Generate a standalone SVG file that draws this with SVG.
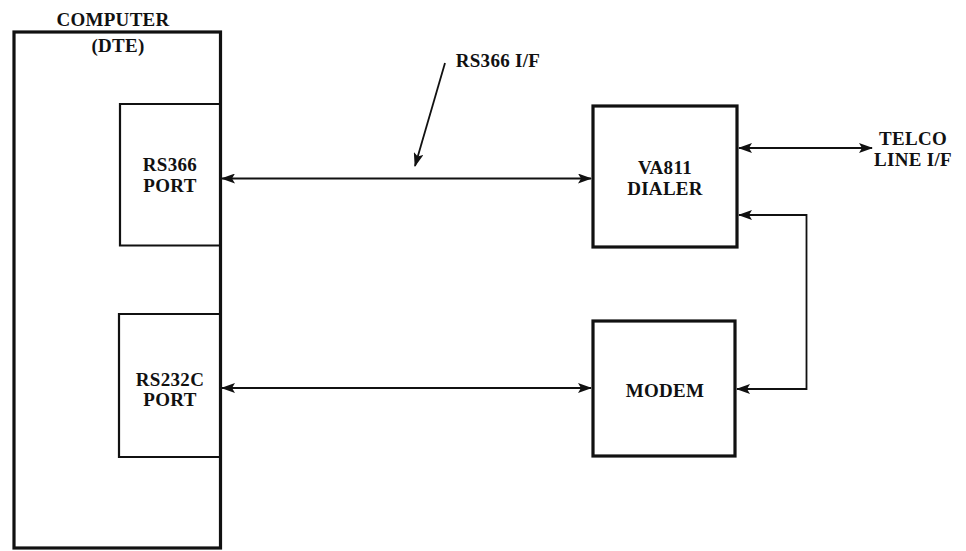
<svg xmlns="http://www.w3.org/2000/svg" width="966" height="551" viewBox="0 0 966 551">
<style>
.t{font-family:"Liberation Serif","Times New Roman",serif;font-weight:bold;font-size:19px;fill:#111;text-anchor:middle;letter-spacing:0.3px}
.big{fill:none;stroke:#111;stroke-width:3.2}
.port{fill:none;stroke:#111;stroke-width:2.2}
.c{fill:none;stroke:#111;stroke-width:1.8}
</style>
<defs>
<marker id="ah" viewBox="0 0 14 10" refX="13" refY="5" markerWidth="14" markerHeight="10" markerUnits="userSpaceOnUse" orient="auto-start-reverse">
<path d="M0,0 L14,5 L0,10 L3,5 Z" fill="#111"/>
</marker>
</defs>
<rect width="966" height="551" fill="#fff"/>
<g id="computer">
<rect class="big" x="14" y="32" width="206.5" height="516"/>
<text class="t" x="113" y="26">COMPUTER</text>
<text class="t" x="118" y="52">(DTE)</text>
</g>
<g id="rs366port">
<polyline class="port" points="220,104 120,104 120,245.5 220,245.5"/>
<text class="t" x="170" y="171">RS366</text>
<text class="t" x="170" y="192">PORT</text>
</g>
<g id="rs232port">
<polyline class="port" points="220,314 119,314 119,457 220,457"/>
<text class="t" x="170" y="386">RS232C</text>
<text class="t" x="170" y="406">PORT</text>
</g>
<g id="dialer">
<rect class="big" x="593" y="106" width="144" height="141"/>
<text class="t" x="665" y="174">VA811</text>
<text class="t" x="665" y="195">DIALER</text>
</g>
<g id="modem">
<rect class="big" x="593" y="321" width="142" height="135"/>
<text class="t" x="665" y="397">MODEM</text>
</g>
<g id="telco">
<text class="t" x="913" y="145">TELCO</text>
<text class="t" x="913" y="166">LINE I/F</text>
</g>
<g id="rs366if">
<text class="t" x="498" y="67">RS366 I/F</text>
</g>
<g id="connectors">
<line class="c" x1="222" y1="178.5" x2="591" y2="178.5" marker-start="url(#ah)" marker-end="url(#ah)"/>
<line class="c" x1="222" y1="388" x2="591" y2="388" marker-start="url(#ah)" marker-end="url(#ah)"/>
<line class="c" x1="739" y1="148" x2="872" y2="148" stroke-width="2.2" marker-start="url(#ah)" marker-end="url(#ah)"/>
<polyline class="c" points="739,215 806.5,215 806.5,389 737,389" stroke-width="2.2" marker-start="url(#ah)" marker-end="url(#ah)"/>
<line class="c" x1="445" y1="63" x2="415" y2="166" stroke-width="2.4" marker-end="url(#ah)"/>
</g>
</svg>
